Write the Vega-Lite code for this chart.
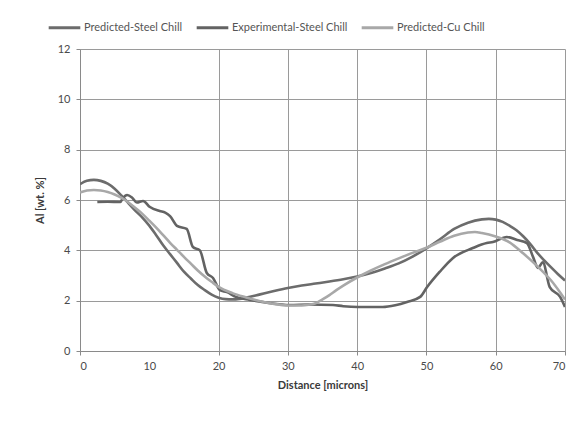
{
  "$schema": "https://vega.github.io/schema/vega-lite/v6.json",
  "width": 485,
  "height": 302,
  "autosize": "none",
  "padding": {"left": 80, "top": 49, "right": 22, "bottom": 75},
  "background": "white",
  "config": {
    "font": "Lato",
    "view": {"stroke": null},
    "axis": {"gridColor": "#9a9a9a", "gridWidth": 1, "domainColor": "#8a8a8a", "tickColor": "#8a8a8a", "labelColor": "#4a4a4a", "labelFontSize": 11, "titleColor": "#3a3a3a", "titleFontSize": 11, "tickSize": 4}
  },
  "datasets": {
    "curves": [
      {"series": "Predicted-Steel Chill", "d": 0, "v": 6.63},
      {"series": "Predicted-Steel Chill", "d": 1, "v": 6.76},
      {"series": "Predicted-Steel Chill", "d": 2, "v": 6.8},
      {"series": "Predicted-Steel Chill", "d": 3, "v": 6.76},
      {"series": "Predicted-Steel Chill", "d": 4, "v": 6.65},
      {"series": "Predicted-Steel Chill", "d": 5, "v": 6.45},
      {"series": "Predicted-Steel Chill", "d": 6, "v": 6.17},
      {"series": "Predicted-Steel Chill", "d": 7, "v": 5.87},
      {"series": "Predicted-Steel Chill", "d": 8, "v": 5.57},
      {"series": "Predicted-Steel Chill", "d": 9, "v": 5.3},
      {"series": "Predicted-Steel Chill", "d": 10, "v": 4.98},
      {"series": "Predicted-Steel Chill", "d": 11, "v": 4.6},
      {"series": "Predicted-Steel Chill", "d": 12, "v": 4.2},
      {"series": "Predicted-Steel Chill", "d": 13, "v": 3.85},
      {"series": "Predicted-Steel Chill", "d": 14, "v": 3.5},
      {"series": "Predicted-Steel Chill", "d": 15, "v": 3.15},
      {"series": "Predicted-Steel Chill", "d": 16, "v": 2.88},
      {"series": "Predicted-Steel Chill", "d": 17, "v": 2.62},
      {"series": "Predicted-Steel Chill", "d": 18, "v": 2.42},
      {"series": "Predicted-Steel Chill", "d": 19, "v": 2.24},
      {"series": "Predicted-Steel Chill", "d": 20, "v": 2.12},
      {"series": "Predicted-Steel Chill", "d": 21, "v": 2.06},
      {"series": "Predicted-Steel Chill", "d": 22, "v": 2.05},
      {"series": "Predicted-Steel Chill", "d": 23, "v": 2.07},
      {"series": "Predicted-Steel Chill", "d": 24, "v": 2.12},
      {"series": "Predicted-Steel Chill", "d": 26, "v": 2.25},
      {"series": "Predicted-Steel Chill", "d": 28, "v": 2.38},
      {"series": "Predicted-Steel Chill", "d": 30, "v": 2.5},
      {"series": "Predicted-Steel Chill", "d": 32, "v": 2.6},
      {"series": "Predicted-Steel Chill", "d": 34, "v": 2.68},
      {"series": "Predicted-Steel Chill", "d": 36, "v": 2.76},
      {"series": "Predicted-Steel Chill", "d": 38, "v": 2.85},
      {"series": "Predicted-Steel Chill", "d": 40, "v": 2.96},
      {"series": "Predicted-Steel Chill", "d": 42, "v": 3.1},
      {"series": "Predicted-Steel Chill", "d": 44, "v": 3.28},
      {"series": "Predicted-Steel Chill", "d": 46, "v": 3.48},
      {"series": "Predicted-Steel Chill", "d": 48, "v": 3.75},
      {"series": "Predicted-Steel Chill", "d": 50, "v": 4.08},
      {"series": "Predicted-Steel Chill", "d": 52, "v": 4.45},
      {"series": "Predicted-Steel Chill", "d": 54, "v": 4.85},
      {"series": "Predicted-Steel Chill", "d": 56, "v": 5.1},
      {"series": "Predicted-Steel Chill", "d": 58, "v": 5.23},
      {"series": "Predicted-Steel Chill", "d": 59, "v": 5.25},
      {"series": "Predicted-Steel Chill", "d": 60, "v": 5.22},
      {"series": "Predicted-Steel Chill", "d": 61, "v": 5.13},
      {"series": "Predicted-Steel Chill", "d": 62, "v": 4.98},
      {"series": "Predicted-Steel Chill", "d": 63, "v": 4.8},
      {"series": "Predicted-Steel Chill", "d": 64, "v": 4.55},
      {"series": "Predicted-Steel Chill", "d": 65, "v": 4.25},
      {"series": "Predicted-Steel Chill", "d": 66, "v": 3.9},
      {"series": "Predicted-Steel Chill", "d": 67, "v": 3.6},
      {"series": "Predicted-Steel Chill", "d": 68, "v": 3.32},
      {"series": "Predicted-Steel Chill", "d": 69, "v": 3.05},
      {"series": "Predicted-Steel Chill", "d": 70, "v": 2.8},

      {"series": "Experimental-Steel Chill", "d": 2.5, "v": 5.92},
      {"series": "Experimental-Steel Chill", "d": 4, "v": 5.93},
      {"series": "Experimental-Steel Chill", "d": 5.8, "v": 5.92},
      {"series": "Experimental-Steel Chill", "d": 6.2, "v": 6.08},
      {"series": "Experimental-Steel Chill", "d": 6.8, "v": 6.2},
      {"series": "Experimental-Steel Chill", "d": 7.5, "v": 6.1},
      {"series": "Experimental-Steel Chill", "d": 8.2, "v": 5.9},
      {"series": "Experimental-Steel Chill", "d": 9.1, "v": 5.96},
      {"series": "Experimental-Steel Chill", "d": 10.1, "v": 5.72},
      {"series": "Experimental-Steel Chill", "d": 11.5, "v": 5.56},
      {"series": "Experimental-Steel Chill", "d": 12.3, "v": 5.5},
      {"series": "Experimental-Steel Chill", "d": 13, "v": 5.36},
      {"series": "Experimental-Steel Chill", "d": 14, "v": 4.97},
      {"series": "Experimental-Steel Chill", "d": 15.4, "v": 4.85},
      {"series": "Experimental-Steel Chill", "d": 16.3, "v": 4.13},
      {"series": "Experimental-Steel Chill", "d": 17.3, "v": 4.0},
      {"series": "Experimental-Steel Chill", "d": 18.3, "v": 3.1},
      {"series": "Experimental-Steel Chill", "d": 19.2, "v": 2.9},
      {"series": "Experimental-Steel Chill", "d": 20.2, "v": 2.42},
      {"series": "Experimental-Steel Chill", "d": 21.2, "v": 2.34},
      {"series": "Experimental-Steel Chill", "d": 22.5, "v": 2.15},
      {"series": "Experimental-Steel Chill", "d": 24.5, "v": 2.03},
      {"series": "Experimental-Steel Chill", "d": 27, "v": 1.92},
      {"series": "Experimental-Steel Chill", "d": 30.3, "v": 1.83},
      {"series": "Experimental-Steel Chill", "d": 33, "v": 1.85},
      {"series": "Experimental-Steel Chill", "d": 36.5, "v": 1.83},
      {"series": "Experimental-Steel Chill", "d": 38, "v": 1.78},
      {"series": "Experimental-Steel Chill", "d": 40.1, "v": 1.75},
      {"series": "Experimental-Steel Chill", "d": 43.7, "v": 1.75},
      {"series": "Experimental-Steel Chill", "d": 45.5, "v": 1.82},
      {"series": "Experimental-Steel Chill", "d": 47.2, "v": 1.95},
      {"series": "Experimental-Steel Chill", "d": 49.1, "v": 2.15},
      {"series": "Experimental-Steel Chill", "d": 50.1, "v": 2.54},
      {"series": "Experimental-Steel Chill", "d": 51.9, "v": 3.14},
      {"series": "Experimental-Steel Chill", "d": 53.8, "v": 3.69},
      {"series": "Experimental-Steel Chill", "d": 56.7, "v": 4.09},
      {"series": "Experimental-Steel Chill", "d": 58.7, "v": 4.29},
      {"series": "Experimental-Steel Chill", "d": 59.6, "v": 4.33},
      {"series": "Experimental-Steel Chill", "d": 61.6, "v": 4.53},
      {"series": "Experimental-Steel Chill", "d": 63.1, "v": 4.41},
      {"series": "Experimental-Steel Chill", "d": 64.5, "v": 4.29},
      {"series": "Experimental-Steel Chill", "d": 65.4, "v": 3.73},
      {"series": "Experimental-Steel Chill", "d": 66.1, "v": 3.3},
      {"series": "Experimental-Steel Chill", "d": 66.8, "v": 3.52},
      {"series": "Experimental-Steel Chill", "d": 67.8, "v": 2.54},
      {"series": "Experimental-Steel Chill", "d": 69.3, "v": 2.15},
      {"series": "Experimental-Steel Chill", "d": 70, "v": 1.75},

      {"series": "Predicted-Cu Chill", "d": 0, "v": 6.3},
      {"series": "Predicted-Cu Chill", "d": 1, "v": 6.38},
      {"series": "Predicted-Cu Chill", "d": 2, "v": 6.4},
      {"series": "Predicted-Cu Chill", "d": 3, "v": 6.38},
      {"series": "Predicted-Cu Chill", "d": 4, "v": 6.32},
      {"series": "Predicted-Cu Chill", "d": 5, "v": 6.22},
      {"series": "Predicted-Cu Chill", "d": 6, "v": 6.08},
      {"series": "Predicted-Cu Chill", "d": 7, "v": 5.9},
      {"series": "Predicted-Cu Chill", "d": 8, "v": 5.68},
      {"series": "Predicted-Cu Chill", "d": 9, "v": 5.45},
      {"series": "Predicted-Cu Chill", "d": 10, "v": 5.18},
      {"series": "Predicted-Cu Chill", "d": 11, "v": 4.9},
      {"series": "Predicted-Cu Chill", "d": 12, "v": 4.6},
      {"series": "Predicted-Cu Chill", "d": 13, "v": 4.3},
      {"series": "Predicted-Cu Chill", "d": 14, "v": 4.02},
      {"series": "Predicted-Cu Chill", "d": 15, "v": 3.74},
      {"series": "Predicted-Cu Chill", "d": 16, "v": 3.47},
      {"series": "Predicted-Cu Chill", "d": 17, "v": 3.2},
      {"series": "Predicted-Cu Chill", "d": 18, "v": 2.96},
      {"series": "Predicted-Cu Chill", "d": 19, "v": 2.75},
      {"series": "Predicted-Cu Chill", "d": 20, "v": 2.55},
      {"series": "Predicted-Cu Chill", "d": 22, "v": 2.3},
      {"series": "Predicted-Cu Chill", "d": 24, "v": 2.13},
      {"series": "Predicted-Cu Chill", "d": 26, "v": 1.98},
      {"series": "Predicted-Cu Chill", "d": 28, "v": 1.87},
      {"series": "Predicted-Cu Chill", "d": 30, "v": 1.81},
      {"series": "Predicted-Cu Chill", "d": 32, "v": 1.81},
      {"series": "Predicted-Cu Chill", "d": 33, "v": 1.84},
      {"series": "Predicted-Cu Chill", "d": 34, "v": 1.9},
      {"series": "Predicted-Cu Chill", "d": 35, "v": 2.05},
      {"series": "Predicted-Cu Chill", "d": 36, "v": 2.22},
      {"series": "Predicted-Cu Chill", "d": 37, "v": 2.42},
      {"series": "Predicted-Cu Chill", "d": 38, "v": 2.6},
      {"series": "Predicted-Cu Chill", "d": 40, "v": 2.92},
      {"series": "Predicted-Cu Chill", "d": 42, "v": 3.2},
      {"series": "Predicted-Cu Chill", "d": 44, "v": 3.45},
      {"series": "Predicted-Cu Chill", "d": 46, "v": 3.68},
      {"series": "Predicted-Cu Chill", "d": 48, "v": 3.9},
      {"series": "Predicted-Cu Chill", "d": 50, "v": 4.1},
      {"series": "Predicted-Cu Chill", "d": 52, "v": 4.35},
      {"series": "Predicted-Cu Chill", "d": 54, "v": 4.58},
      {"series": "Predicted-Cu Chill", "d": 56, "v": 4.71},
      {"series": "Predicted-Cu Chill", "d": 57, "v": 4.73},
      {"series": "Predicted-Cu Chill", "d": 58, "v": 4.69},
      {"series": "Predicted-Cu Chill", "d": 60, "v": 4.55},
      {"series": "Predicted-Cu Chill", "d": 62, "v": 4.32},
      {"series": "Predicted-Cu Chill", "d": 64, "v": 3.87},
      {"series": "Predicted-Cu Chill", "d": 66, "v": 3.37},
      {"series": "Predicted-Cu Chill", "d": 68, "v": 2.8},
      {"series": "Predicted-Cu Chill", "d": 70, "v": 2.05}
    ]
  },
  "data": {"name": "curves"},
  "mark": {"type": "line", "strokeWidth": 2.6, "interpolate": "monotone", "clip": true},
  "encoding": {
    "x": {
      "field": "d", "type": "quantitative",
      "scale": {"domain": [0, 70], "nice": false},
      "axis": {
        "title": "Distance [microns]", "titleFontWeight": "bold", "titlePadding": 8,
        "values": [0, 10, 20, 30, 40, 50, 60, 70], "labelPadding": 5,
        "gridOpacity": {"condition": {"test": "datum.value === 10", "value": 0}, "value": 1},
        "tickOpacity": {"condition": {"test": "datum.value === 10", "value": 0}, "value": 1}
      }
    },
    "y": {
      "field": "v", "type": "quantitative",
      "scale": {"domain": [0, 12], "nice": false},
      "axis": {"title": "Al [wt. %]", "titleFontWeight": "bold", "titlePadding": 12, "values": [0, 2, 4, 6, 8, 10, 12], "labelPadding": 6}
    },
    "color": {
      "field": "series", "type": "nominal",
      "scale": {"domain": ["Predicted-Steel Chill", "Experimental-Steel Chill", "Predicted-Cu Chill"], "range": ["#6c6c6c", "#636363", "#a8a8a8"]},
      "legend": {
        "title": null, "orient": "none", "legendX": -33, "legendY": -39, "direction": "horizontal",
        "symbolType": "stroke", "symbolSize": 1000, "symbolStrokeWidth": 3,
        "labelFontSize": 11, "labelColor": "#555555", "labelOffset": 2, "columnPadding": 7, "labelLimit": 200
      }
    },
    "order": {"field": "d", "type": "quantitative"}
  }
}
